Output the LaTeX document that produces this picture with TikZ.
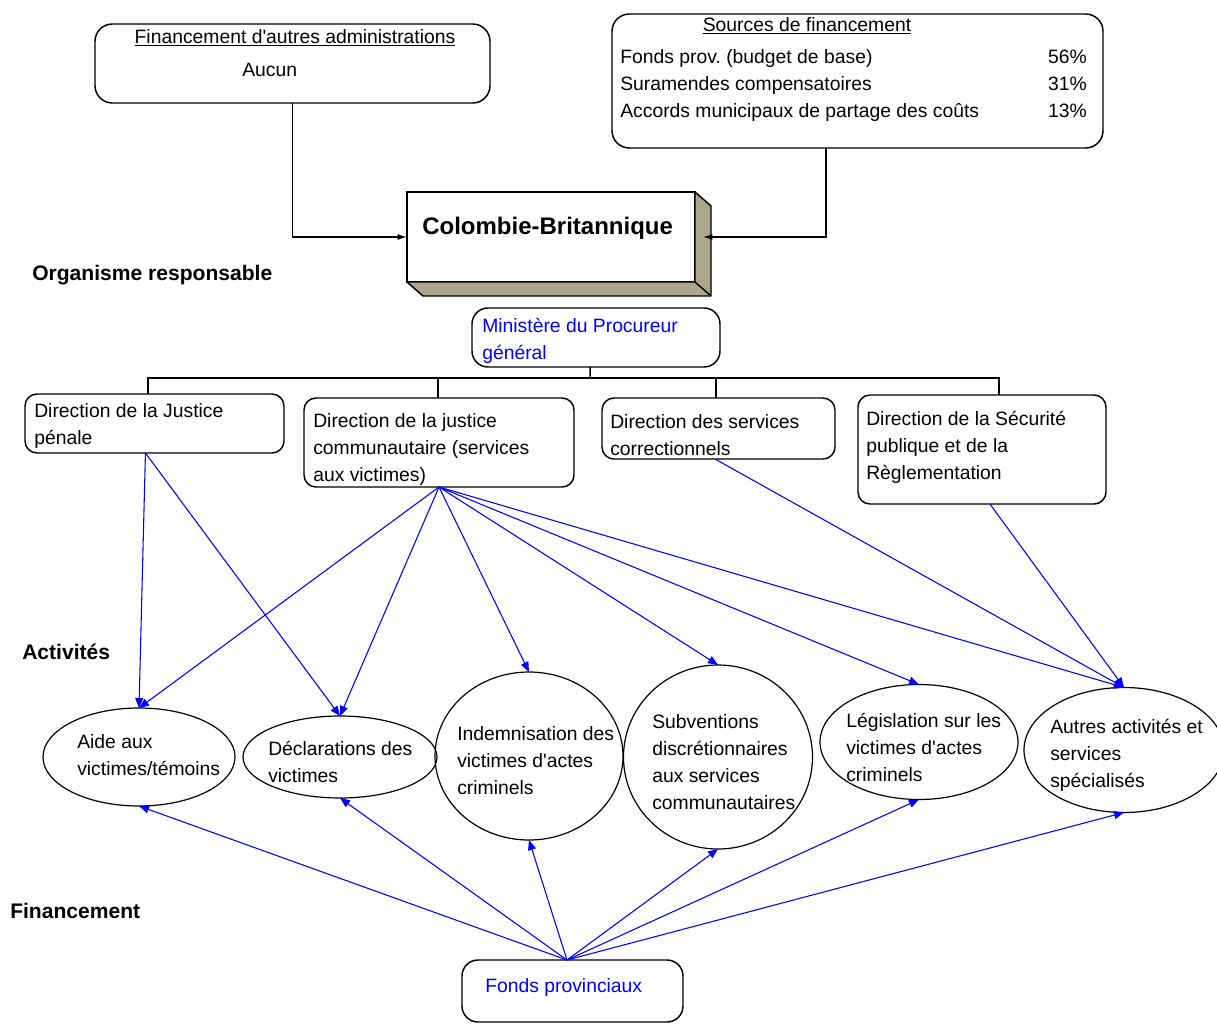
\documentclass[tikz,border=0pt]{standalone}
\usepackage{fontspec}
\setmainfont{Liberation Sans}
\usetikzlibrary{shapes.geometric,fit,calc,arrows.meta}
\frenchspacing
\newcommand\bodyfont{\fontsize{14.5}{20.25}\selectfont}
\newcommand\labelfont{\fontsize{15.8}{20.25}\selectfont\bfseries}
\newcommand\apos{\textquotesingle}
\definecolor{depthtan}{RGB}{173,166,140}
\definecolor{pureblue}{RGB}{0,0,255}

\begin{document}
\begin{tikzpicture}[x=0.75pt,y=-0.75pt,
  box/.style={draw, line width=1.1pt, rounded corners=9pt, inner sep=0pt, outer sep=0pt, fill=white},
  ell/.style={draw, ellipse, line width=0.9pt, inner sep=0pt, outer sep=0pt},
  txt/.style={anchor=north west, inner sep=0pt, align=left, font=\bodyfont},
  line/.style={anchor=base west, inner sep=0pt, font=\bodyfont},
  heading/.style={anchor=base west, inner sep=0pt, font=\labelfont},
  link/.style={draw, line width=1.1pt},
  feed/.style={draw, line width=1.1pt, -{Latex[length=7pt,width=4.5pt]}},
  flow/.style={draw=pureblue, line width=0.8pt, -{Triangle[length=7.5pt,width=6pt]}}]

\useasboundingbox (0,0) rectangle (1217,1025);

% ---- funding boxes at the top ----
\node[box, rounded corners=13pt, fit={(95,24) (490,103)}] (fa) {};
\node[anchor=base, inner sep=0pt, font=\bodyfont] (fatitle) at (295,43) {\underline{Financement d\apos autres administrations}};
\node[line] (faval) at (242,76) {Aucun};

\node[box, rounded corners=13pt, fit={(612,14) (1103,148)}] (sf) {};
\node[anchor=base, inner sep=0pt, font=\bodyfont] (sftitle) at (807,31) {\underline{Sources de financement}};
\node[txt] (sflist) at (620,44) {\strut Fonds prov.\ (budget de base)\\Suramendes compensatoires\\Accords municipaux de partage des coûts};
\node[txt, anchor=north east, align=right] (sfpct) at (1087,44) {\strut 56\%\\31\%\\13\%};

% ---- responsible body (raised box) ----
\node[draw, line width=1.1pt, fill=white, inner sep=0pt, outer sep=0pt, fit={(407,192) (695,282)}] (cb) {};
\filldraw[fill=depthtan, line width=1.1pt, line join=round]
  (cb.north east) -- ++(16,14) -- ($(cb.south east)+(16,14)$) -- ($(cb.south west)+(16,14)$)
  -- (cb.south west) -- (cb.south east) -- cycle;
\draw[line width=1.1pt] (cb.south east) -- ++(16,14);
\node[anchor=base west, inner sep=0pt, font=\fontsize{18}{22}\selectfont\bfseries] (cbtext) at (422,234) {Colombie-Britannique};
\coordinate (cbr) at ($(cb.east)+(8,0)$);

\draw[feed] (fa.south) |- (cb.west);
\draw[feed] ($(sf.south west)!0.436!(sf.south east)$) |- (cbr);

\node[heading] (orglabel) at (32,280) {Organisme responsable};

% ---- ministry and its branches ----
\node[box, rounded corners=12pt, fit={(472,308) (720,367)}] (mp) {};
\node[txt, text=pureblue] (mptext) at (482,313) {\strut Ministère du Procureur\\général};

\node[box, fit={(25,394) (284,453)}] (jp) {};
\node[txt] (jptext) at (34,398) {\strut Direction de la Justice\\pénale};

\node[box, fit={(304,398) (574,487)}] (jc) {};
\node[txt] (jctext) at (313,408) {\strut Direction de la justice\\communautaire (services\\aux victimes)};

\node[box, fit={(602,398) (835,459)}] (sc) {};
\node[txt] (sctext) at (610,409) {\strut Direction des services\\correctionnels};

\node[box, fit={(858,395) (1106,504)}] (sp) {};
\node[txt] (sptext) at (866,406) {\strut Direction de la Sécurité\\publique et de la\\Règlementation};

\coordinate (bus) at (590,378);
\draw[link] ($(mp.south west)!0.476!(mp.south east)$) -- (bus);
\draw[link] ($(jp.north west)!0.475!(jp.north east)$) |- (bus);
\draw[link] ($(jc.north west)!0.496!(jc.north east)$) |- (bus);
\draw[link] ($(sc.north west)!0.489!(sc.north east)$) |- (bus);
\draw[link] ($(sp.north west)!0.569!(sp.north east)$) |- (bus);

% ---- activities ----
\node[heading] (actlabel) at (22,659) {Activités};

\node[ell, minimum width=192*0.75pt, minimum height=98*0.75pt] (aide) at (139,757) {};
\node[txt] (aidetext) at (77,729) {\strut Aide aux\\victimes/témoins};

\node[ell, minimum width=194*0.75pt, minimum height=82*0.75pt] (dec) at (340,757) {};
\node[txt] (dectext) at (268,736) {\strut Déclarations des\\victimes};

\node[ell, minimum width=188*0.75pt, minimum height=168*0.75pt] (ind) at (529,756) {};
\node[txt] (indtext) at (457,721) {\strut Indemnisation des\\victimes d\apos actes\\criminels};

\node[ell, minimum width=189*0.75pt, minimum height=184*0.75pt] (sub) at (718,757) {};
\node[txt] (subtext) at (652,709) {\strut Subventions\\discrétionnaires\\aux services\\communautaires};

\node[ell, minimum width=198*0.75pt, minimum height=115*0.75pt] (leg) at (919,742) {};
\node[txt] (legtext) at (846,708) {\strut Législation sur les\\victimes d\apos actes\\criminels};

\node[ell, minimum width=200*0.75pt, minimum height=125*0.75pt] (aut) at (1124,750) {};
\node[txt] (auttext) at (1050,714) {\strut Autres activités et\\services\\spécialisés};

% ---- responsibility arrows ----
\coordinate (jps) at ($(jp.south west)!0.465!(jp.south east)$);
\coordinate (scs) at ($(sc.south west)!0.485!(sc.south east)$);
\coordinate (sps) at ($(sp.south west)!0.532!(sp.south east)$);

\draw[flow] (jps) -- (aide.north);
\draw[flow] (jps) -- (dec.north);
\draw[flow] (jc.south) -- (aide.north);
\draw[flow] (jc.south) -- (dec.north);
\draw[flow] (jc.south) -- (ind.north);
\draw[flow] (jc.south) -- (sub.north);
\draw[flow] (jc.south) -- (leg.north);
\draw[flow] (jc.south) -- (aut.north);
\draw[flow] (scs) -- (aut.north);
\draw[flow] (sps) -- (aut.north);

% ---- funding ----
\node[heading] (finlabel) at (10,918) {Financement};

\node[box, rounded corners=12pt, fit={(462,960) (683,1022)}] (fp) {};
\node[line, text=pureblue] (fptext) at (485,992) {Fonds provinciaux};
\coordinate (fpn) at ($(fp.north west)!0.475!(fp.north east)$);

\draw[flow] (fpn) -- (aide.south);
\draw[flow] (fpn) -- (dec.south);
\draw[flow] (fpn) -- (ind.south);
\draw[flow] (fpn) -- (sub.south);
\draw[flow] (fpn) -- (leg.south);
\draw[flow] (fpn) -- (aut.south);

\end{tikzpicture}
\end{document}
